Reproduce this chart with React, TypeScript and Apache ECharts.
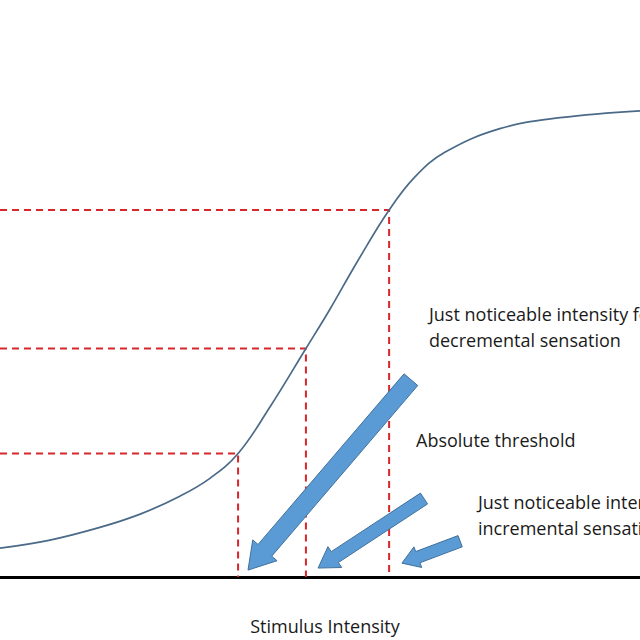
import React, { useEffect, useRef } from "react";
import * as echarts from "echarts";

// Sigmoid sensation curve (stimulus intensity vs. sensation)
const curveX = [0, 7.8, 15.6, 21.9, 28.1, 32.8, 37.2, 42.2, 47.8, 51.6, 55.8, 60.8, 64.8, 69.5, 78.1, 87.5, 100];
const curveY = [5.0, 6.4, 8.6, 10.9, 14.0, 17.1, 21.4, 29.5, 39.6, 46.5, 54.6, 63.6, 69.3, 73.6, 77.7, 79.6, 80.8];

// Threshold points on the curve (absolute, decremental, incremental)
const thresholdX = [37.2, 47.8, 60.8];
const thresholdY = [21.4, 39.6, 63.6];

// Arrows: tail (x,y) -> tip (x,y), in data units
const arrowTailX = [64.2, 66.25, 71.9];
const arrowTailY = [34.2, 13.6, 6.2];
const arrowTipX = [38.75, 49.7, 62.8];
const arrowTipY = [1.2, 1.55, 2.4];

// Annotation texts
const labels = [
  "Just noticeable intensity for",
  "decremental sensation",
  "Absolute threshold",
  "Just noticeable intensity for",
  "incremental sensation",
];
const axisTitle = "Stimulus Intensity";

// Styling (sizes in px)
const arrowShaft = [18, 13, 12];
const arrowHead = [32, 25, 22];
const arrowHeadLen = [26, 20, 17];
const labelPos = [
  [429, 314],
  [429, 340],
  [416, 440],
  [478, 502],
  [478, 528],
];

export default function App() {
  const ref = useRef<HTMLDivElement>(null);
  useEffect(() => {
    document.body.style.margin = "0";
    const chart = echarts.init(ref.current!, null, { renderer: "svg" });
    const curveData = curveX.map((x, i) => [x, curveY[i]]);
    const dashSeries = thresholdX.map((x, i) => ({
      type: "line",
      data: [
        [0, thresholdY[i]],
        [x, thresholdY[i]],
        [x, 0],
      ],
      symbol: "none",
      silent: true,
      lineStyle: { color: "#d8262a", width: 2, type: [7, 5] },
      z: 2,
    }));
    const arrowData = arrowTailX.map((x, i) => [x, arrowTailY[i], arrowTipX[i], arrowTipY[i]]);
    chart.setOption({
      animation: false,
      grid: { left: 0, right: 0, top: 0, bottom: 61 },
      xAxis: {
        type: "value",
        min: 0,
        max: 100,
        axisLine: { show: true, lineStyle: { color: "#000", width: 3 } },
        axisTick: { show: false },
        axisLabel: { show: false },
        splitLine: { show: false },
        name: axisTitle,
        nameLocation: "middle",
        nameGap: 40,
        nameTextStyle: {
          fontFamily: "Open Sans",
          fontSize: 18,
          color: "#1a1a1a",
          padding: [0, 0, 0, 10],
        },
      },
      yAxis: {
        type: "value",
        min: 0,
        max: 100,
        show: false,
      },
      series: [
        ...dashSeries,
        {
          type: "line",
          data: curveData,
          symbol: "none",
          smooth: 0.4,
          lineStyle: { color: "#4a6a88", width: 1.7 },
          z: 3,
        },
        {
          type: "custom",
          data: arrowData,
          encode: { x: [0, 2], y: [1, 3] },
          z: 4,
          renderItem: (params: any, api: any) => {
            const i = params.dataIndex;
            const t = api.coord([api.value(0), api.value(1)]);
            const h = api.coord([api.value(2), api.value(3)]);
            const dx = h[0] - t[0];
            const dy = h[1] - t[1];
            const L = Math.hypot(dx, dy);
            const ux = dx / L, uy = dy / L;
            const nx = -uy, ny = ux;
            const w = arrowShaft[i] / 2, hw = arrowHead[i] / 2, hl = arrowHeadLen[i];
            const b = [h[0] - ux * hl, h[1] - uy * hl];
            const points = [
              [t[0] + nx * w, t[1] + ny * w],
              [b[0] + nx * w, b[1] + ny * w],
              [b[0] + nx * hw, b[1] + ny * hw],
              [h[0], h[1]],
              [b[0] - nx * hw, b[1] - ny * hw],
              [b[0] - nx * w, b[1] - ny * w],
              [t[0] - nx * w, t[1] - ny * w],
            ];
            return {
              type: "polygon",
              shape: { points },
              style: { fill: "#5b9bd5", stroke: "#41719c", lineWidth: 1 },
            };
          },
        },
      ],
      graphic: labels.map((txt, i) => ({
        type: "text",
        x: labelPos[i][0],
        y: labelPos[i][1],
        style: {
          text: txt,
          fontFamily: "Open Sans",
          fontSize: 18,
          fill: "#1a1a1a",
          verticalAlign: "middle",
        },
      })),
    });
    return () => chart.dispose();
  }, []);
  return <div ref={ref} style={{ width: 640, height: 640, background: "#fff" }} />;
}
